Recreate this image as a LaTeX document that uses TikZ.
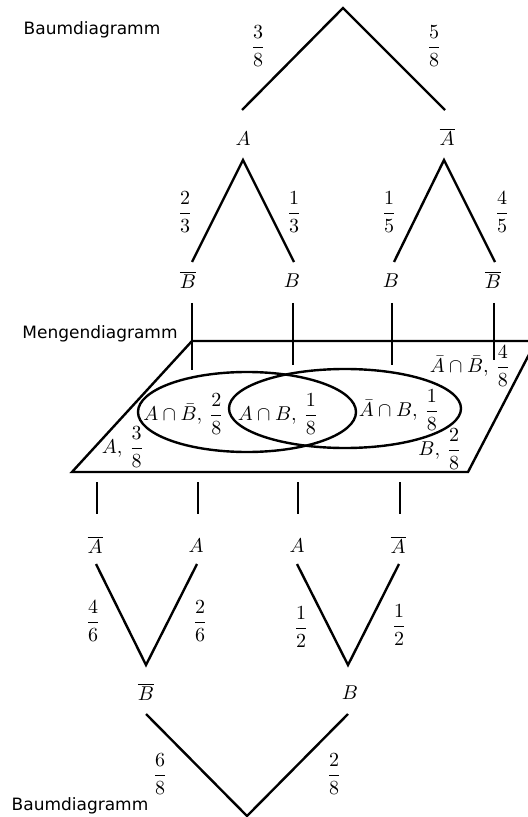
\documentclass[tikz,border=0pt]{standalone}
\usepackage{amsmath}
\usepackage{fontspec}
\newfontfamily\labelfont{DejaVu Sans}
\begin{document}
\begin{tikzpicture}[x=0.5pt,y=-0.5pt,line width=1.2pt,
  lbl/.style={inner sep=0pt,font=\fontsize{10}{12}\selectfont},
  ttl/.style={inner sep=0pt,font=\labelfont\fontsize{8.5}{10}\selectfont},
  edge/.style={draw,line width=1.2pt}]
\useasboundingbox (0,0) rectangle (528,817);
\clip (0,0) rectangle (528,817);
% titles
\node[ttl] (t1) at (92,30) {Baumdiagramm};
\node[ttl] (t2) at (100,334) {Mengendiagramm};
\node[ttl] (t3) at (80,806) {Baumdiagramm};
% ---------- top tree ----------
\coordinate (r1) at (343,8);
\coordinate (r1l) at (242,110);
\coordinate (r1r) at (445,110);
\draw[edge] (r1l) -- (r1) -- (r1r);
\node[lbl] (f38) at (258,46) {$\dfrac{3}{8}$};
\node[lbl] (f58) at (434,46) {$\dfrac{5}{8}$};
\node[lbl] (A1) at (243,139) {$A$};
\node[lbl] (nA1) at (447,137) {$\overline{A}$};
\coordinate (a1) at (243,160);
\coordinate (a1l) at (192,262);
\coordinate (a1r) at (294,262);
\coordinate (a2) at (444,160);
\coordinate (a2l) at (394,262);
\coordinate (a2r) at (495,262);
\draw[edge] (a1l) -- (a1) -- (a1r);
\draw[edge] (a2l) -- (a2) -- (a2r);
\node[lbl] (f23) at (185,212) {$\dfrac{2}{3}$};
\node[lbl] (f13) at (294,212) {$\dfrac{1}{3}$};
\node[lbl] (f15) at (389,212) {$\dfrac{1}{5}$};
\node[lbl] (f45) at (502,212) {$\dfrac{4}{5}$};
\node[lbl] (nB1) at (188,280) {$\overline{B}$};
\node[lbl] (B1) at (292,281) {$B$};
\node[lbl] (B2) at (391,281) {$B$};
\node[lbl] (nB2) at (493,280) {$\overline{B}$};
% vertical connectors into the set diagram
\coordinate (v1a) at (192,303); \coordinate (v1b) at (192,370);
\coordinate (v2a) at (293,303); \coordinate (v2b) at (293,365);
\coordinate (v3a) at (392,303); \coordinate (v3b) at (392,365);
\coordinate (v4a) at (494,303); \coordinate (v4b) at (494,360);
\draw[edge] (v1a) -- (v1b);
\draw[edge] (v2a) -- (v2b);
\draw[edge] (v3a) -- (v3b);
\draw[edge] (v4a) -- (v4b);
% ---------- set diagram ----------
\coordinate (p1) at (192,341);
\coordinate (p2) at (536,341);
\coordinate (p3) at (468,472);
\coordinate (p4) at (72,472);
\draw[line width=1.2pt,line join=miter] (p1) -- (p2) -- (p3) -- (p4) -- cycle;
\draw[line width=1.2pt] (247,412) ellipse [x radius=54.5pt, y radius=20pt];
\draw[line width=1.2pt] (345,408.5) ellipse [x radius=58pt, y radius=19.75pt];
\node[lbl] (s1) at (183.5,414) {$A\cap\bar{B},\,\dfrac{2}{8}$};
\node[lbl] (s2) at (278,414) {$A\cap B,\,\dfrac{1}{8}$};
\node[lbl] (s3) at (399,410) {$\bar{A}\cap B,\,\dfrac{1}{8}$};
\node[lbl] (s4) at (470,366) {$\bar{A}\cap\bar{B},\,\dfrac{4}{8}$};
\node[lbl] (s5) at (123,447) {$A,\,\dfrac{3}{8}$};
\node[lbl] (s6) at (440,449) {$B,\,\dfrac{2}{8}$};
% vertical connectors out of the set diagram
\coordinate (w1a) at (97,482); \coordinate (w1b) at (97,514);
\coordinate (w2a) at (198,482); \coordinate (w2b) at (198,514);
\coordinate (w3a) at (298,482); \coordinate (w3b) at (298,514);
\coordinate (w4a) at (400,482); \coordinate (w4b) at (400,514);
\draw[edge] (w1a) -- (w1b);
\draw[edge] (w2a) -- (w2b);
\draw[edge] (w3a) -- (w3b);
\draw[edge] (w4a) -- (w4b);
% ---------- bottom tree ----------
\node[lbl] (nA2) at (95,545) {$\overline{A}$};
\node[lbl] (A2) at (196,546) {$A$};
\node[lbl] (A3) at (297,546) {$A$};
\node[lbl] (nA3) at (398,545) {$\overline{A}$};
\coordinate (b1l) at (96,564);
\coordinate (b1) at (146,665);
\coordinate (b1r) at (197,564);
\coordinate (b2l) at (297,564);
\coordinate (b2) at (348,665);
\coordinate (b2r) at (399,564);
\draw[edge] (b1l) -- (b1) -- (b1r);
\draw[edge] (b2l) -- (b2) -- (b2r);
\node[lbl] (f46) at (93,621) {$\dfrac{4}{6}$};
\node[lbl] (f26) at (200,621) {$\dfrac{2}{6}$};
\node[lbl] (f12a) at (301,627) {$\dfrac{1}{2}$};
\node[lbl] (f12b) at (399,625) {$\dfrac{1}{2}$};
\node[lbl] (nB3) at (146,692) {$\overline{B}$};
\node[lbl] (B3) at (350,693) {$B$};
\coordinate (c1l) at (146,714);
\coordinate (c1) at (247,816);
\coordinate (c1r) at (348,714);
\draw[edge] (c1l) -- (c1) -- (c1r);
\node[lbl] (f68) at (160,774) {$\dfrac{6}{8}$};
\node[lbl] (f28) at (334,774) {$\dfrac{2}{8}$};
\end{tikzpicture}
\end{document}
